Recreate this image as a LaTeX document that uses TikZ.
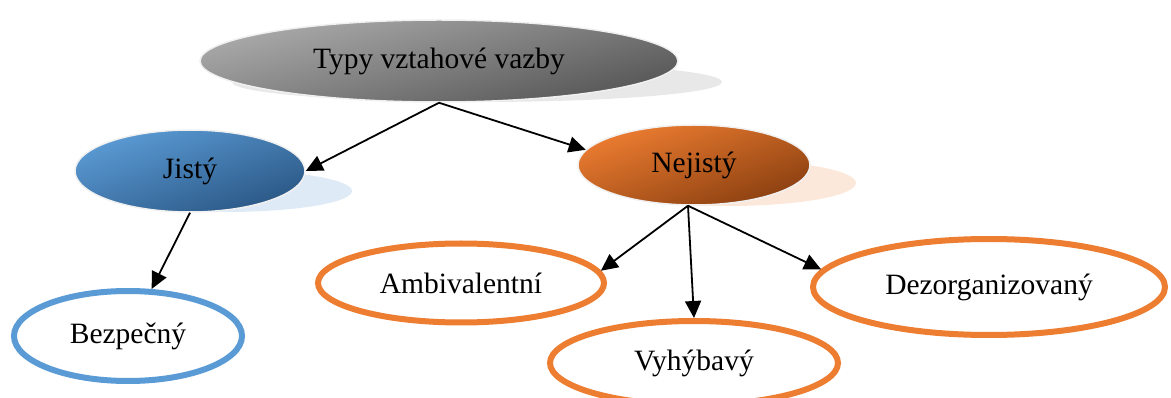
\documentclass[tikz,border=0pt]{standalone}
\usepackage{fontspec}
\setmainfont{Liberation Serif}
\usetikzlibrary{shapes.geometric, arrows.meta}

\definecolor{sedasv}{HTML}{ABABAB}
\definecolor{sedatm}{HTML}{555555}
\definecolor{modra}{HTML}{5B9BD5}
\definecolor{modratm}{HTML}{2A5785}
\definecolor{oranz}{HTML}{ED7D31}
\definecolor{oranztm}{HTML}{8A3F10}

\tikzset{
	plna/.style={ellipse, draw=black!6, line width=1.5pt, inner sep=0pt,
		font=\fontsize{29.5}{34}\selectfont},
	obrys/.style={ellipse, draw=#1, line width=6pt, fill=white, inner sep=0pt,
		font=\fontsize{29.5}{34}\selectfont},
	sipka/.style={-{Triangle[length=17pt,width=16pt]}, line width=1.8pt}
}

\begin{document}
\begin{tikzpicture}[x=1pt, y=-1pt]
		\useasboundingbox (0,0) rectangle (1171,398);
		
		% stiny
		\fill [black!9] (477,82) ellipse [x radius=245, y radius=20];
		\fill [modra!20] (226,191) ellipse [x radius=126, y radius=21];
		\fill [oranz!18] (728,183) ellipse [x radius=128, y radius=23];
		
		\node [plna, minimum width=478, minimum height=82, top color=sedasv, bottom color=sedatm, shading angle=15] (typy) at (439,61) {Typy vztahové vazby};
		\node [plna, minimum width=230, minimum height=82, top color=modra, bottom color=modratm, shading angle=20] (jisty) at (190,171) {Jistý};
		\node [plna, minimum width=232, minimum height=80, top color=oranz, bottom color=oranztm, shading angle=20] (nejisty) at (694,165) {Nejistý};
		
		\node [obrys=modra, minimum width=228, minimum height=90] (bezp) at (128,336) {Bezpečný};
		\node [obrys=oranz, minimum width=286, minimum height=79] (ambi) at (461,283) {Ambivalentní};
		\node [obrys=oranz, minimum width=288, minimum height=84] (vyhy) at (694,363) {Vyhýbavý};
		\node [obrys=oranz, minimum width=352, minimum height=96] (dezo) at (989,287) {Dezorganizovaný};
		
		\draw [sipka] (typy.south) -- (jisty.east);
		\draw [sipka] (typy.south) -- (nejisty.172);
		\draw [sipka] (jisty.south) -- (bezp);
		
		\foreach \cil in {ambi.5, vyhy.north, dezo.174}
			\draw [sipka] ([xshift=-6pt]nejisty.south) -- (\cil);
	\end{tikzpicture}
\end{document}
